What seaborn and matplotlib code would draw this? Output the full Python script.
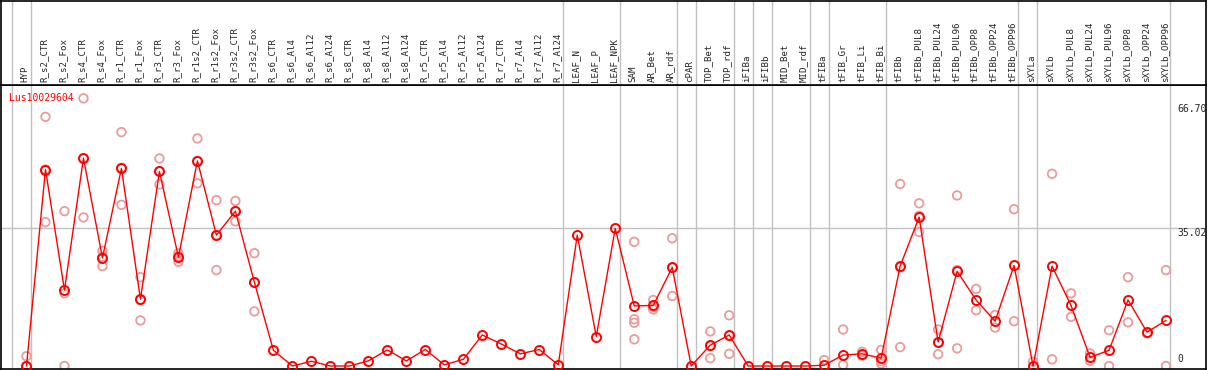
import numpy as np
import pandas as pd
import seaborn as sns
import matplotlib
matplotlib.use('Agg')
from matplotlib import pyplot as plt

# sample names (x axis, header labels)
samples = ['HYP', 'R_s2_CTR', 'R_s2_Fox', 'R_s4_CTR', 'R_s4_Fox', 'R_r1_CTR', 'R_r1_Fox',
           'R_r3_CTR', 'R_r3_Fox', 'R_r1s2_CTR', 'R_r1s2_Fox', 'R_r3s2_CTR', 'R_r3s2_Fox',
           'R_s6_CTR', 'R_s6_Al4', 'R_s6_Al12', 'R_s6_Al24', 'R_s8_CTR', 'R_s8_Al4',
           'R_s8_Al12', 'R_s8_Al24', 'R_r5_CTR', 'R_r5_Al4', 'R_r5_Al12', 'R_r5_Al24',
           'R_r7_CTR', 'R_r7_Al4', 'R_r7_Al12', 'R_r7_Al24', 'LEAF_N', 'LEAF_P', 'LEAF_NPK',
           'SAM', 'AR_Bet', 'AR_rdf', 'cPAR', 'TOP_Bet', 'TOP_rdf', 'iFIBa', 'iFIBb',
           'MID_Bet', 'MID_rdf', 'tFIBa', 'tFIB_Gr', 'tFIB_Li', 'tFIB_Bi', 'tFIBb',
           'tFIBb_PUL8', 'tFIBb_PUL24', 'tFIBb_PUL96', 'tFIBb_OPP8', 'tFIBb_OPP24',
           'tFIBb_OPP96', 'sXYLa', 'sXYLb', 'sXYLb_PUL8', 'sXYLb_PUL24', 'sXYLb_PUL96',
           'sXYLb_OPP8', 'sXYLb_OPP24', 'sXYLb_OPP96']

# group sizes -> separator lines
group_sizes = [1, 28, 3, 3, 1, 2, 1, 1, 2, 1, 3, 7, 1, 7]

# mean expression (red line)
means = [0.0, 50.0, 19.3, 52.9, 27.5, 50.3, 17.0, 49.5, 27.7, 52.2, 33.3, 39.4, 21.3,
         4.0, 0.0, 1.2, 0.0, 0.0, 1.3, 4.1, 1.3, 4.2, 0.3, 1.7, 7.9,
         5.6, 3.1, 4.2, 0.3, 33.3, 7.5, 35.0,
         15.3, 15.4, 25.1, 0.0, 5.3, 7.9, 0.0, 0.0,
         0.0, 0.0, 0.2, 2.8, 3.1, 2.0, 25.4,
         37.9, 6.1, 24.1, 16.8, 11.4,
         25.6, 0.0, 25.4, 15.4, 2.2, 4.0,
         16.8, 8.6, 11.6]

# replicate values (pale circles)
replicates = [[2.5, 0.0], [63.4, 36.6, 50.0], [39.4, 0.0, 18.5], [68.1, 37.8, 52.8],
              [29.3, 25.4, 27.8], [59.5, 41.0, 50.4], [22.6, 11.6, 16.8], [52.8, 46.2, 49.5],
              [28.7, 26.5, 27.9], [57.9, 46.5, 52.2], [42.2, 24.4, 33.3], [42.0, 36.8, 39.4],
              [28.7, 13.9, 21.3],
              [], [], [], [], [], [], [], [], [], [], [], [], [], [], [], [],
              [], [], [],
              [31.6, 11.9, 11.0, 6.8], [16.8, 14.4, 15.0], [32.5, 17.8, 25.0], [],
              [8.8, 2.0, 5.1], [12.9, 3.1, 7.7], [], [], [], [],
              [1.5], [9.3, 0.3], [3.6, 2.6], [4.1, 0.6, 1.2], [46.3, 4.8, 25.1],
              [41.4, 34.1, 38.2], [9.3, 3.0, 6.0], [43.4, 4.5, 24.4], [19.6, 14.2], [13.0, 9.8],
              [39.9, 11.4], [1.1], [48.9, 1.7], [18.5, 12.5], [3.2, 1.3], [9.1, 0.0],
              [22.6, 11.1], [8.3], [24.4, 0.0]]

gene = 'Lus10029604'
ytick_vals = [66.70, 35.02]

sns.set_style('white')
plt.rcParams['font.family'] = ['DejaVu Sans Mono', 'DejaVu Sans']

df = pd.DataFrame({'pos': np.arange(len(samples)), 'value': means})
rows = []
for i, vals in enumerate(replicates):
    for v in vals:
        rows.append((i, v))
df_rep = pd.DataFrame(rows, columns=['pos', 'value'])

W, H = 1209, 370
fig = plt.figure(figsize=(W / 100, H / 100), dpi=100)
ax = fig.add_axes([0.5 / W, 1 / H, 1205.5 / W, 284 / H])
hdr = fig.add_axes([0.5 / W, 285 / H, 1205.5 / W, 84.5 / H])

x0, step = 26, 19.0
xlim = (-x0 / step, (1206 - x0) / step)
ylim = (-0.76, 71.5)

grey = '#c0c0c0'
bounds = [-1] + list(np.cumsum(group_sizes) - 1)
for b in bounds:
    ax.axvline(b + 0.23, color=grey, lw=1, zorder=0)
    hdr.axvline(b + 0.23, color=grey, lw=1, zorder=0)
ax.axhline(ytick_vals[1], color=grey, lw=1, zorder=0)

sns.scatterplot(data=df_rep, x='pos', y='value', ax=ax, marker='o', s=38,
                facecolors='none', edgecolor='#ea9c9c', linewidth=1.3, zorder=2)
sns.lineplot(data=df, x='pos', y='value', ax=ax, color='red', lw=1, marker='o',
             markersize=6.5, markerfacecolor='none', markeredgecolor='red',
             markeredgewidth=1.4, zorder=3, errorbar=None)

ax.set_xlim(*xlim)
ax.set_ylim(*ylim)
ax.set_xticks([])
ax.set_yticks([])
ax.set_xlabel('')
ax.set_ylabel('')
for s in ax.spines.values():
    s.set_color('black')
    s.set_linewidth(1.2)

ax.text(9 / 1206, 0.955, gene, transform=ax.transAxes, color='red', fontsize=7,
        ha='left', va='center')
tr = ax.get_yaxis_transform()
for v in ytick_vals:
    ax.text(1177 / 1206, v, '%.2f' % v, transform=tr, fontsize=7, ha='left', va='top')
ax.text(1177 / 1206, 0.6, '0', transform=tr, fontsize=7, ha='left', va='bottom')

hdr.set_xlim(*xlim)
hdr.set_ylim(0, 1)
hdr.set_xticks([])
hdr.set_yticks([])
for s in hdr.spines.values():
    s.set_color('black')
    s.set_linewidth(1.2)
for i, name in enumerate(samples):
    hdr.text(i - 0.08, 0.04, name, rotation=90, fontsize=6.6, ha='center', va='bottom')

fig.savefig('out.png', dpi=100)
